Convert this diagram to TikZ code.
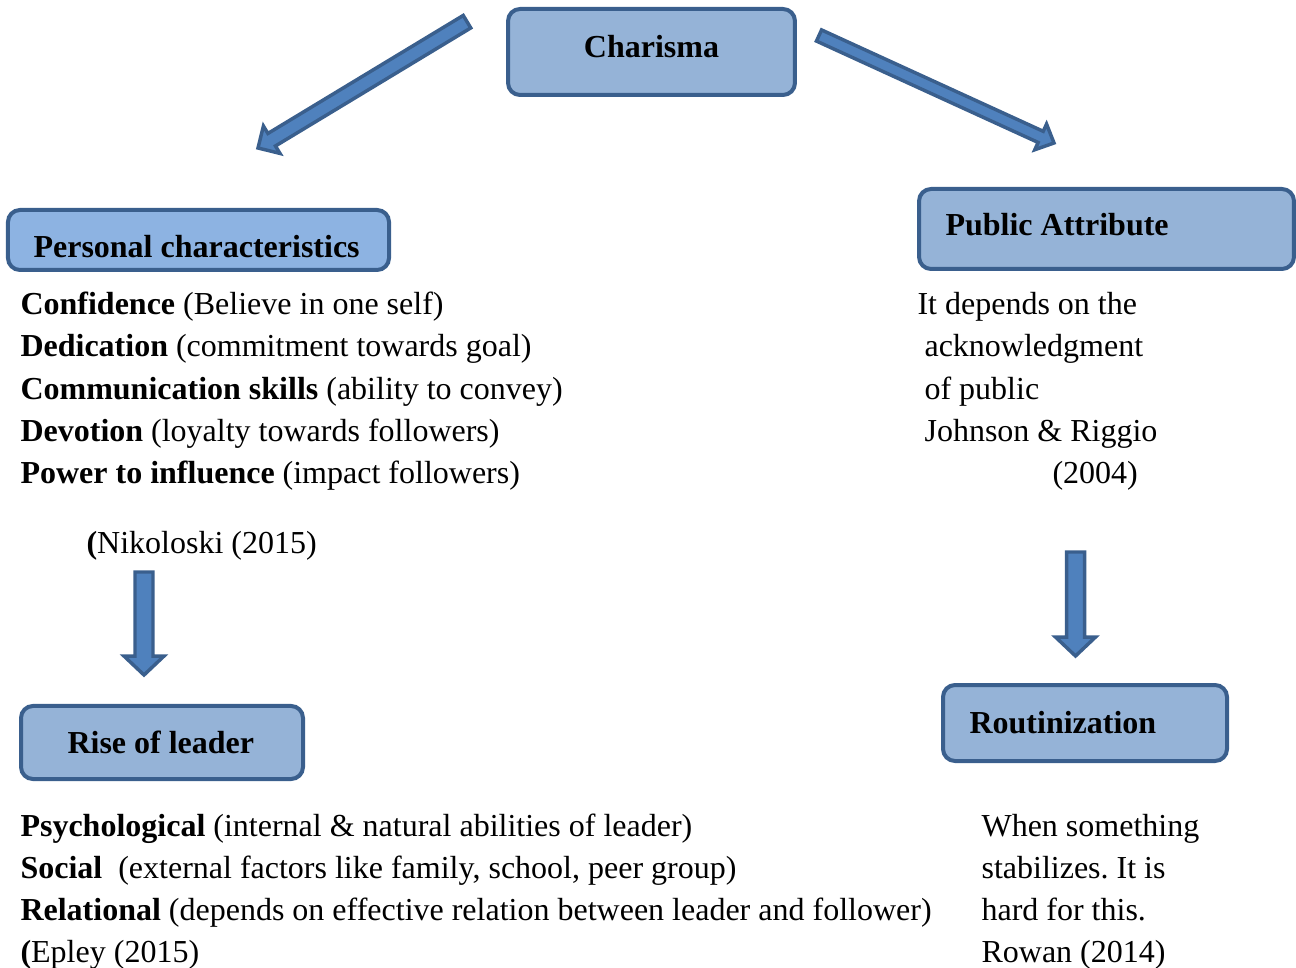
\documentclass[tikz,border=0pt]{standalone}
\usepackage{fontspec}
\setmainfont{Liberation Serif}
\usetikzlibrary{calc}
\frenchspacing
\definecolor{boxfill}{HTML}{95B3D7}
\definecolor{boxfilltwo}{HTML}{8DB3E2}
\definecolor{boxline}{HTML}{3A5F8D}
\definecolor{arrowfill}{HTML}{4F81BD}
\tikzset{
  box/.style={draw=boxline, line width=1.5pt, rounded corners=4.5pt, fill=boxfill, inner sep=0pt},
  title/.style={font=\fontsize{12pt}{15pt}\selectfont\bfseries, anchor=base west, inner sep=0pt},
  body/.style={font=\fontsize{12pt}{15pt}\selectfont, anchor=base west, inner sep=0pt},
  blockarrow/.style={draw=boxline, fill=arrowfill, line width=1.3pt, line join=miter},
}
% block arrow from tail #1 to tip #2; half shaft width #3, half head width #4, head length #5
\newcommand\blockarrow[5]{%
  \coordinate (#1-hb) at ($(#2)!#5!(#1)$);
  \filldraw[blockarrow]
    ($(#1)!#3!90:(#2)$) -- ($(#1-hb)!#3!90:(#2)$) -- ($(#1-hb)!#4!90:(#2)$)
    -- (#2) -- ($(#1-hb)!#4!-90:(#2)$) -- ($(#1-hb)!#3!-90:(#2)$)
    -- ($(#1)!#3!-90:(#2)$) -- cycle;
}
\begin{document}
\begin{tikzpicture}[x=0.375pt, y=-0.375pt]
\useasboundingbox (0,0) rectangle (1296,968);

% boxes
\node[box, minimum width=107.6pt, minimum height=32.25pt] (charisma) at (651.5,52) {};
\node[box, fill=boxfilltwo, minimum width=142.9pt, minimum height=22.5pt] (personal) at (198.5,240) {};
\node[box, minimum width=140.6pt, minimum height=30pt] (public) at (1106.5,229) {};
\node[box, minimum width=105.75pt, minimum height=27.4pt] (rise) at (162,742.5) {};
\node[box, minimum width=106.5pt, minimum height=28.5pt] (routine) at (1085,723) {};

% box titles
\node[title, anchor=base] (tcharisma) at (651.5,58) {Charisma};
\node[title] (tpersonal) at (33,258) {Personal characteristics};
\node[title] (tpublic) at (945,236) {Public Attribute};
\node[title] (trise) at (67,753) {Rise of leader};
\node[title] (troutine) at (969,733) {Routinization};

% personal characteristics list
\node[body] (l1) at (20,315) {\textbf{Confidence} (Believe in one self)};
\node[body] (l2) at (20,357) {\textbf{Dedication} (commitment towards goal)};
\node[body] (l3) at (20,400) {\textbf{Communication skills} (ability to convey)};
\node[body] (l4) at (20,442) {\textbf{Devotion} (loyalty towards followers)};
\node[body] (l5) at (20,484) {\textbf{Power to influence} (impact followers)};
\node[body] (l6) at (86,553) {\textbf{(}Nikoloski (2015)};

% public attribute text
\node[body] (r1) at (917,315) {It depends on the};
\node[body] (r2) at (924,357) {acknowledgment};
\node[body] (r3) at (924,400) {of public};
\node[body] (r4) at (924,442) {Johnson \& Riggio};
\node[body] (r5) at (1052,484) {(2004)};

% rise of leader text
\node[body] (b1) at (20,836) {\textbf{Psychological} (internal \& natural abilities of leader)};
\node[body] (b2) at (20,878) {\textbf{Social}\ \ (external factors like family, school, peer group)};
\node[body] (b3) at (20,920) {\textbf{Relational} (depends on effective relation between leader and follower)};
\node[body] (b4) at (20,962) {\textbf{(}Epley (2015)};

% routinization text
\node[body] (c1) at (981,836) {When something};
\node[body] (c2) at (981,878) {stabilizes. It is};
\node[body] (c3) at (981,920) {hard for this.};
\node[body] (c4) at (981,962) {Rowan (2014)};

% block arrows
\coordinate (la) at (467,21.7);  \coordinate (lb) at (258,148);
\coordinate (ra) at (819,35.5);  \coordinate (rb) at (1054,143);
\coordinate (da) at (144,572);   \coordinate (db) at (144,675);
\coordinate (ea) at (1075.5,552); \coordinate (eb) at (1075.5,656);
\blockarrow{la}{lb}{2.74pt}{6pt}{6pt}
\blockarrow{ra}{rb}{2.3pt}{5.3pt}{5.5pt}
\blockarrow{da}{db}{3.375pt}{7.5pt}{7.1pt}
\blockarrow{ea}{eb}{3.375pt}{7.5pt}{7.1pt}
\end{tikzpicture}
\end{document}
